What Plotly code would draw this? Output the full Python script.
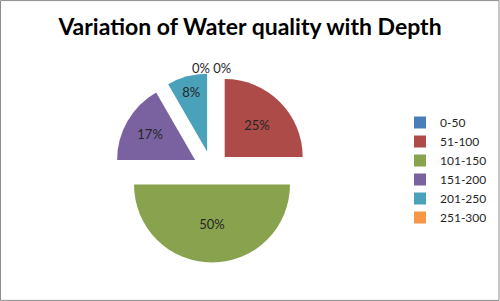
import plotly.graph_objects as go

categories = ["0-50", "51-100", "101-150", "151-200", "201-250", "251-300"]
counts = [0, 3, 6, 2, 1, 0]
colors = ["#4A7EBB", "#AD4B48", "#88A24E", "#7A62A0", "#4AA2BA", "#F79646"]
pulls = [0, 0.23, 0.19, 0.25, 0.24, 0]

total = sum(counts)
pcts = [round(100 * c / total) for c in counts]
textpos = ["inside" if c > 0 else "none" for c in counts]
zero_text = " ".join(f"{p}%" for p, c in zip(pcts, counts) if c == 0)

fig = go.Figure(go.Pie(
    labels=categories,
    values=counts,
    sort=False,
    direction="clockwise",
    rotation=0,
    pull=pulls,
    marker=dict(colors=colors, line=dict(width=0)),
    textinfo="percent",
    texttemplate="%{percent:.0%}",
    textposition=textpos,
    insidetextorientation="horizontal",
    textfont=dict(family="Lato, Open Sans, sans-serif", size=13, color="#262626"),
    domain=dict(x=[0.229, 0.619], y=[0.111, 0.761]),
    showlegend=True,
))

fig.add_annotation(
    text=zero_text, x=0.422, y=1 - 68 / 301, xref="paper", yref="paper",
    xanchor="center", yanchor="middle",
    showarrow=False, font=dict(family="Lato, Open Sans, sans-serif", size=13, color="#262626"),
)

fig.add_shape(type="rect", xref="paper", yref="paper", x0=0.001, y0=0.002, x1=0.998, y1=0.998,
              line=dict(color="#8C8C8C", width=1))

fig.update_layout(
    width=500, height=301,
    margin=dict(l=0, r=0, t=0, b=0),
    paper_bgcolor="white",
    plot_bgcolor="white",
    title=dict(text="<b>Variation of Water quality with Depth</b>", x=0.5, xanchor="center",
               y=1 - 27 / 301, yanchor="middle", yref="container",
               font=dict(family="Lato, Open Sans, sans-serif", size=23, color="black")),
    legend=dict(x=0.80, xanchor="left", y=1 - 170 / 301, yanchor="middle",
                font=dict(family="Lato, Open Sans, sans-serif", size=12, color="#262626"),
                bgcolor="rgba(0,0,0,0)"),
)

fig.write_html("out.html", config={"displayModeBar": False},
               post_script="document.body.style.margin='0';")
